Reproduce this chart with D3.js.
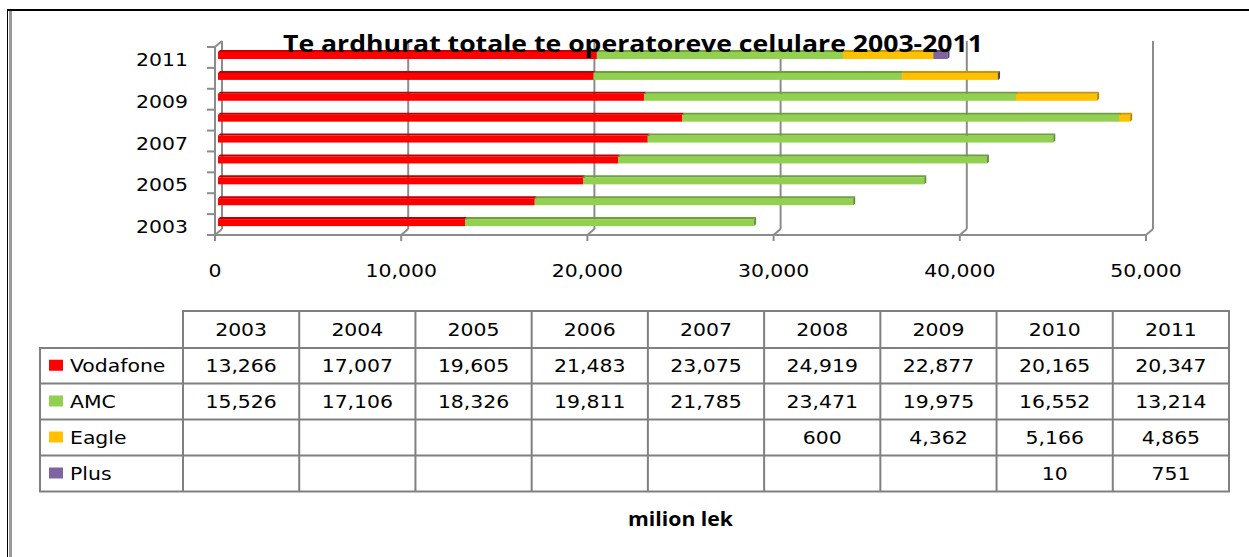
<!DOCTYPE html>
<html lang="sq">
  <head>
    <meta charset="utf-8">
    <title>Te ardhurat totale</title>
    <script src="https://d3js.org/d3.v7.min.js"></script>
    <style>
      body { margin: 0; background: #fff; }
      text { font-family: "DejaVu Sans", Verdana, sans-serif; fill: #000; }
    </style>
  </head>
  <body>
    <div id="chart"></div>
    <script>
      // data (milion lek)
      var years = ["2003", "2004", "2005", "2006", "2007", "2008", "2009", "2010", "2011"];
      var vodafone = [13266, 17007, 19605, 21483, 23075, 24919, 22877, 20165, 20347];
      var amc = [15526, 17106, 18326, 19811, 21785, 23471, 19975, 16552, 13214];
      var eagle = [null, null, null, null, null, 600, 4362, 5166, 4865];
      var plus = [null, null, null, null, null, null, null, 10, 751];
      var seriesNames = ["Vodafone", "AMC", "Eagle", "Plus"];
      var seriesFront = ["#ff0000", "#92d050", "#ffc000", "#8064a2"];
      var seriesTop = ["#c00000", "#6f9e3c", "#c79600", "#5e4a7c"];
      var xTicks = [0, 10000, 20000, 30000, 40000, 50000];
      var yLabels = ["2003", "2005", "2007", "2009", "2011"];

      var W = 1249, H = 557;
      var svg = d3.select("#chart").append("svg")
        .attr("width", W).attr("height", H);

      svg.append("rect").attr("width", W).attr("height", H).attr("fill", "#fff");

      // outer frame (left + top)
      svg.append("line").attr("x1", 7.5).attr("x2", 7.5).attr("y1", 10).attr("y2", H)
        .attr("stroke", "#000").attr("stroke-width", 1);
      svg.append("line").attr("x1", 10.5).attr("x2", 10.5).attr("y1", 11).attr("y2", H)
        .attr("stroke", "#999").attr("stroke-width", 3);
      svg.append("line").attr("x1", 7).attr("x2", W).attr("y1", 10).attr("y2", 10)
        .attr("stroke", "#000").attr("stroke-width", 2);

      // helper for the wide looking text
      var wideText = function(parent, x, y, str, anchor, size) {
        return parent.append("text")
          .attr("transform", "translate(" + x + "," + y + ") scale(1.2,1)")
          .attr("text-anchor", anchor)
          .style("font-size", size + "px")
          .text(str);
      };

      // scales
      var depthX = 7, depthY = -6;   // back wall offset
      var xScale = d3.scaleLinear().domain([0, 50000]).range([215, 1146]);
      var yScale = d3.scaleBand().domain(years.slice().reverse()).range([47, 235]);

      var axisColor = "#8c8c8c";
      var grid = svg.append("g");

      // back wall gridlines + floor diagonals
      xTicks.forEach(function(t) {
        var x = xScale(t);
        grid.append("line")
          .attr("x1", x + depthX).attr("x2", x + depthX)
          .attr("y1", 47 + depthY).attr("y2", 235 + depthY)
          .attr("stroke", axisColor).attr("stroke-width", 2);
        grid.append("line")
          .attr("x1", x).attr("x2", x + depthX)
          .attr("y1", 235).attr("y2", 235 + depthY)
          .attr("stroke", axisColor).attr("stroke-width", 2);
        grid.append("line")
          .attr("x1", x).attr("x2", x)
          .attr("y1", 235).attr("y2", 241)
          .attr("stroke", axisColor).attr("stroke-width", 2);
        wideText(svg, x, 277, d3.format(",")(t), "middle", 17);
      });

      // left wall
      grid.append("line").attr("x1", 215).attr("x2", 215).attr("y1", 47).attr("y2", 235)
        .attr("stroke", axisColor).attr("stroke-width", 2);
      grid.append("line").attr("x1", 215).attr("x2", 215 + depthX).attr("y1", 47).attr("y2", 47 + depthY)
        .attr("stroke", axisColor).attr("stroke-width", 2);
      grid.append("line").attr("x1", 214).attr("x2", 1147).attr("y1", 235).attr("y2", 235)
        .attr("stroke", axisColor).attr("stroke-width", 2);
      years.forEach(function(yr) {
        var y = yScale(yr);
        grid.append("line").attr("x1", 207).attr("x2", 215).attr("y1", y).attr("y2", y)
          .attr("stroke", axisColor).attr("stroke-width", 2);
      });
      grid.append("line").attr("x1", 207).attr("x2", 215).attr("y1", 235).attr("y2", 235)
        .attr("stroke", axisColor).attr("stroke-width", 2);

      yLabels.forEach(function(yr) {
        wideText(svg, 188, yScale(yr) + yScale.bandwidth() / 2 + 8.5, yr, "end", 17);
      });

      // stacked bars
      var rows = years.map(function(yr, i) {
        return { year: yr, Vodafone: vodafone[i], AMC: amc[i], Eagle: eagle[i] || 0, Plus: plus[i] || 0 };
      });
      var stacked = d3.stack().keys(seriesNames)(rows);

      var barOffX = 3, barH = 7, topD = 2;
      var bars = svg.append("g");
      rows.forEach(function(r, i) {
        var y0 = yScale(r.year) + 5;
        stacked.forEach(function(s, k) {
          var d = s[i];
          if (d[1] - d[0] <= 0) return;
          var xa = xScale(d[0]) + barOffX, xb = xScale(d[1]) + barOffX;
          // front face
          bars.append("rect")
            .attr("x", xa).attr("y", y0)
            .attr("width", xb - xa).attr("height", barH)
            .attr("fill", seriesFront[k]);
          // top face
          bars.append("path")
            .attr("d", "M" + xa + "," + y0 + "L" + (xa + topD) + "," + (y0 - topD) +
              "L" + (xb + topD) + "," + (y0 - topD) + "L" + xb + "," + y0 + "Z")
            .attr("fill", seriesTop[k]);
          // side face
          bars.append("path")
            .attr("d", "M" + xb + "," + y0 + "L" + (xb + topD) + "," + (y0 - topD) +
              "L" + (xb + topD) + "," + (y0 + barH - topD) + "L" + xb + "," + (y0 + barH) + "Z")
            .attr("fill", d3.color(seriesTop[k]).darker(0.3));
        });
      });

      // title
      svg.append("text")
        .attr("x", 283).attr("y", 52)
        .attr("textLength", 700).attr("lengthAdjust", "spacingAndGlyphs")
        .style("font-family", "'Open Sans', sans-serif")
        .style("font-weight", "bold")
        .style("font-size", "23px")
        .text("Te ardhurat totale te operatoreve celulare 2003-2011");

      // data table
      var colScale = d3.scaleBand().domain(years).range([183, 1229]);
      var rowTops = [311, 348, 383.5, 419.5, 455.5, 491.5];
      var values = [vodafone, amc, eagle, plus];
      var lineColor = "#808080";
      var table = svg.append("g");

      table.append("line").attr("x1", 182).attr("x2", 1230).attr("y1", rowTops[0]).attr("y2", rowTops[0])
        .attr("stroke", lineColor).attr("stroke-width", 2);
      rowTops.slice(1).forEach(function(y) {
        table.append("line").attr("x1", 39).attr("x2", 1230).attr("y1", y).attr("y2", y)
          .attr("stroke", lineColor).attr("stroke-width", 2);
      });
      table.append("line").attr("x1", 40).attr("x2", 40).attr("y1", rowTops[1]).attr("y2", rowTops[5])
        .attr("stroke", lineColor).attr("stroke-width", 2);
      years.forEach(function(yr) {
        var x = colScale(yr);
        table.append("line").attr("x1", x).attr("x2", x).attr("y1", rowTops[0]).attr("y2", rowTops[5])
          .attr("stroke", lineColor).attr("stroke-width", 2);
      });
      table.append("line").attr("x1", 1229).attr("x2", 1229).attr("y1", rowTops[0]).attr("y2", rowTops[5])
        .attr("stroke", lineColor).attr("stroke-width", 2);

      years.forEach(function(yr) {
        wideText(table, colScale(yr) + colScale.bandwidth() / 2, (rowTops[0] + rowTops[1]) / 2 + 6.5, yr, "middle", 17);
      });

      seriesNames.forEach(function(name, k) {
        var cy = (rowTops[k + 1] + rowTops[k + 2]) / 2;
        table.append("rect").attr("x", 49).attr("y", cy - 6).attr("width", 14).attr("height", 11)
          .attr("fill", seriesFront[k]);
        wideText(table, 70, cy + 6.5, name, "start", 17);
        values[k].forEach(function(v, i) {
          if (v == null) return;
          wideText(table, colScale(years[i]) + colScale.bandwidth() / 2, cy + 6.5, d3.format(",")(v), "middle", 17);
        });
      });

      // unit label
      svg.append("text")
        .attr("x", 628).attr("y", 526)
        .attr("textLength", 105).attr("lengthAdjust", "spacingAndGlyphs")
        .style("font-family", "'Open Sans', sans-serif")
        .style("font-weight", "bold")
        .style("font-size", "19px")
        .text("milion lek");
    </script>
  </body>
</html>
